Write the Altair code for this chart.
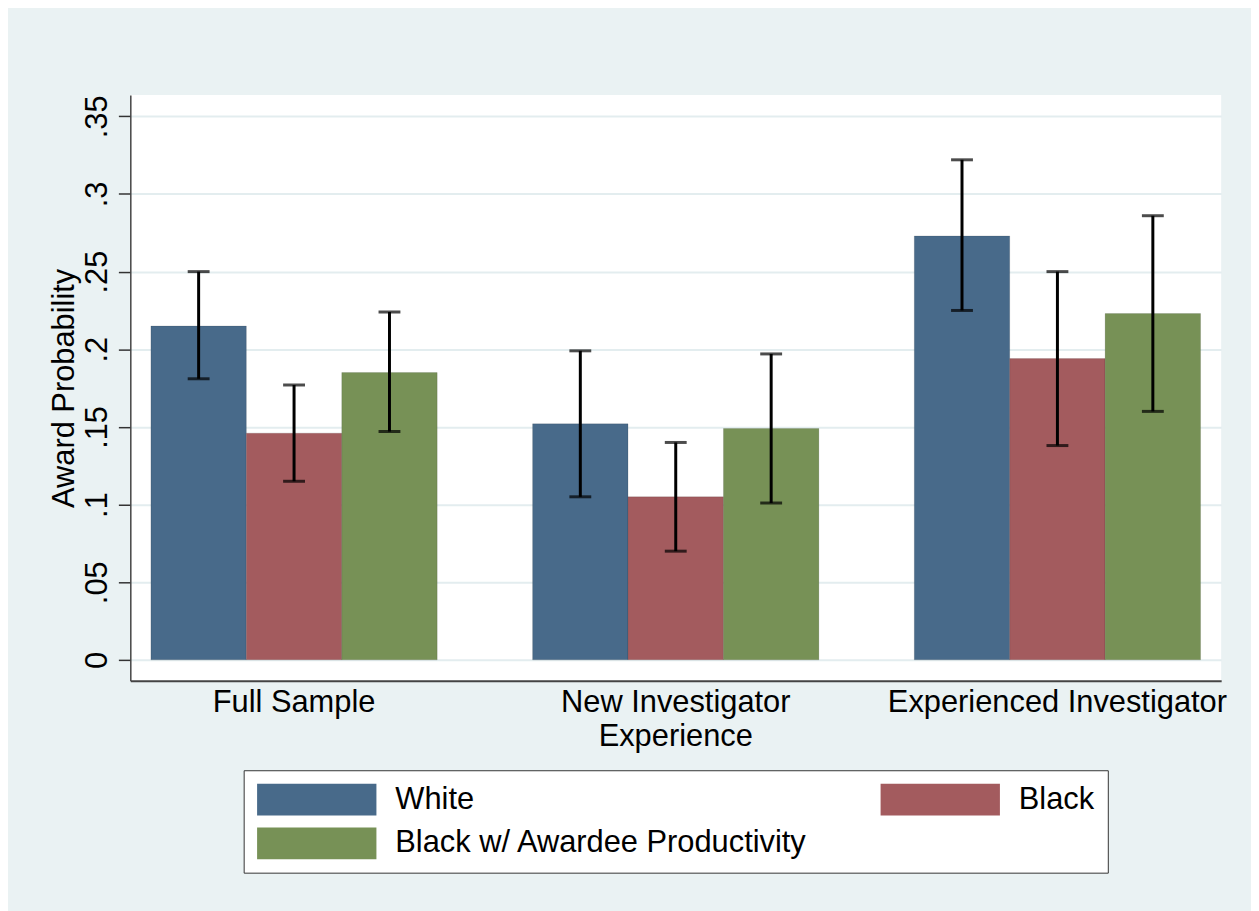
import altair as alt
import pandas as pd

# ---- data ----
groups = ["Full Sample", "New Investigator|Experience", "Experienced Investigator"]
series = ["White", "Black", "Black w/ Awardee Productivity"]
colors = ["#486A8A", "#A35B5E", "#779156"]

white_mean = [0.215, 0.152, 0.273]
white_lo = [0.181, 0.105, 0.225]
white_hi = [0.250, 0.199, 0.322]

black_mean = [0.146, 0.105, 0.194]
black_lo = [0.115, 0.070, 0.138]
black_hi = [0.177, 0.140, 0.250]

adj_mean = [0.185, 0.149, 0.223]
adj_lo = [0.147, 0.101, 0.160]
adj_hi = [0.224, 0.197, 0.286]

y_ticks = [0, 0.05, 0.1, 0.15, 0.2, 0.25, 0.3, 0.35]

rows = []
for s, m, lo, hi in [
    ("White", white_mean, white_lo, white_hi),
    ("Black", black_mean, black_lo, black_hi),
    ("Black w/ Awardee Productivity", adj_mean, adj_lo, adj_hi),
]:
    for g, mv, lv, hv in zip(groups, m, lo, hi):
        rows.append({"group": g, "series": s, "mean": mv, "lo": lv, "hi": hv})
df = pd.DataFrame(rows)

FONT = "Liberation Sans"
YTITLE = "Award Probability"

x_enc = alt.X(
    "group:N",
    sort=groups,
    scale=alt.Scale(paddingInner=0.25, paddingOuter=0.054),
    axis=alt.Axis(
        title=None,
        labelExpr="split(datum.label, '|')",
        labelAngle=0,
        ticks=False,
        tickSize=0,
        labelPadding=31,
        labelBaseline="alphabetic",
        labelFontSize=31,
        labelLineHeight=34,
        labelColor="black",
        labelFont=FONT,
        labelLimit=600,
        domainColor="#444444",
        domainWidth=2,
        grid=False,
    ),
)
xoff_enc = alt.XOffset(
    "series:N", sort=series, scale=alt.Scale(paddingInner=0, paddingOuter=0)
)

y_scale = alt.Scale(domain=[-0.01345, 0.3637], nice=False, zero=False)
y_axis = alt.Axis(
    values=y_ticks,
    labelExpr="datum.value == 0 ? '0' : slice(format(datum.value, '.2~f'), 1)",
    labelAngle=270,
    labelAlign="center",
    labelBaseline="alphabetic",
    labelPadding=12,
    labelFontSize=31,
    labelColor="black",
    labelFont=FONT,
    labelFlush=False,
    labelOverlap=False,
    tickSize=12,
    tickColor="#333333",
    tickWidth=1.5,
    domainColor="#444444",
    domainWidth=1.5,
    grid=True,
    gridColor="#E3EDEF",
    gridWidth=2,
    title=YTITLE,
    titleAngle=270,
    titleX=-57,
    titleY=294.5,
    titleAlign="center",
    titleBaseline="alphabetic",
    titleFontSize=31,
    titleFontWeight="normal",
    titleColor="black",
    titleFont=FONT,
)

base = alt.Chart(df)

bars = base.mark_bar(stroke="black", strokeOpacity=0.12, strokeWidth=1).encode(
    x=x_enc,
    xOffset=xoff_enc,
    y=alt.Y("mean:Q", scale=y_scale, axis=y_axis, title=YTITLE),
    y2=alt.datum(0),
    color=alt.Color(
        "series:N",
        sort=series,
        scale=alt.Scale(domain=series, range=colors),
        legend=alt.Legend(
            title=None,
            orient="none",
            legendX=114,
            legendY=679,
            direction="horizontal",
            columns=2,
            columnPadding=73,
            rowPadding=12,
            symbolOffset=44,
            labelOffset=63,
            symbolType="M-3.75,-1H3.75V1H-3.75Z",
            symbolSize=1024,
            symbolStrokeWidth=0,
            symbolOpacity=1,
            labelFontSize=31,
            labelFont=FONT,
            labelColor="black",
            labelLimit=700,
            padding=13.5,
            strokeColor="#333333",
            fillColor="white",
        ),
    ),
)

rules = base.mark_rule(color="black", strokeWidth=3).encode(
    x=x_enc,
    xOffset=xoff_enc,
    y=alt.Y("lo:Q", scale=y_scale, title=YTITLE),
    y2="hi:Q",
)

caps_lo = base.mark_tick(color="black", size=22, thickness=3, orient="horizontal").encode(
    x=x_enc,
    xOffset=xoff_enc,
    y=alt.Y("lo:Q", scale=y_scale, title=YTITLE),
)
caps_hi = base.mark_tick(color="black", size=22, thickness=3, orient="horizontal").encode(
    x=x_enc,
    xOffset=xoff_enc,
    y=alt.Y("hi:Q", scale=y_scale, title=YTITLE),
)

chart = (
    alt.layer(bars, rules, caps_lo, caps_hi)
    .properties(
        width=1097,
        height=589,
        autosize=alt.AutoSizeParams(type="none"),
        padding={"left": 123, "top": 85, "right": 30, "bottom": 229},
        background="#EAF2F3",
    )
    .configure(font=FONT)
    .configure_view(fill="white", stroke=None)
)

chart.save("out.html", embed_options={"renderer": "svg", "actions": False})
